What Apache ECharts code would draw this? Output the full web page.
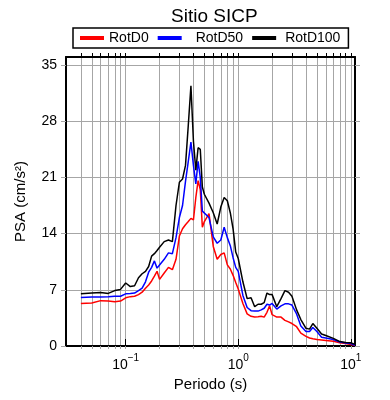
<!DOCTYPE html>
<html>
<head>
<meta charset="utf-8">
<script src="https://cdn.jsdelivr.net/npm/echarts@6/dist/echarts.min.js"></script>
<style>html,body{margin:0;padding:0;background:#fff;}#c{width:390px;height:400px;}</style>
</head>
<body>
<div id="c"></div>
<script>
const periods = [0.04,0.05,0.06,0.07,0.08,0.09,0.1,0.11,0.12,0.13,0.14,0.15,0.16,0.17,0.18,0.19,0.2,0.22,0.24,0.26,0.28,0.3,0.32,0.34,0.36,0.38,0.4,0.42,0.44,0.46,0.48,0.5,0.55,0.6,0.65,0.7,0.75,0.8,0.85,0.9,0.95,1.0,1.1,1.2,1.3,1.4,1.5,1.6,1.7,1.8,1.9,2.0,2.2,2.4,2.6,2.8,3.0,3.3,3.6,4.0,4.3,4.6,5.0,5.5,6.0,7.0,8.0,9.0,10.0,10.9];
const rotD0 = [5.3,5.35,5.65,5.6,5.5,5.6,6.0,6.15,6.2,6.4,6.7,7.2,7.6,8.1,8.7,9.3,8.3,9.1,9.8,9.5,10.8,13.7,14.6,15.1,15.5,15.9,15.7,18.5,20.6,19.5,14.8,15.5,16.5,12.4,10.8,11.4,11.6,10.1,9.6,8.8,7.9,7.1,5.3,4.0,3.7,3.6,3.65,3.7,3.6,4.2,5.0,3.9,3.6,3.6,3.2,3.0,2.8,2.4,1.6,1.2,1.0,0.9,0.8,0.75,0.7,0.6,0.4,0.3,0.2,0.05];
const rotD50 = [6.05,6.1,6.1,6.15,6.2,6.2,6.5,6.55,6.6,6.9,7.2,8.0,9.2,9.8,10.6,9.7,10.1,10.8,11.6,11.5,13.5,16.0,17.5,20.5,23.0,25.4,22.5,20.2,23.0,21.0,16.8,16.9,16.0,13.6,12.8,13.2,14.8,13.5,12.5,11.0,9.8,9.3,6.3,4.8,4.4,4.35,4.35,4.5,4.7,5.2,5.1,5.3,4.6,5.0,5.25,5.25,5.1,4.0,2.5,1.8,1.8,2.3,1.8,1.1,1.0,0.8,0.5,0.37,0.3,0.1];
const rotD100 = [6.5,6.6,6.65,6.55,6.9,7.05,7.85,7.4,7.5,8.5,9.0,9.3,9.9,11.2,11.5,11.9,12.3,13.0,13.2,13.0,17.5,20.4,20.8,22.5,27.5,32.4,25.5,21.9,24.7,24.5,19.8,18.9,17.8,16.6,15.2,17.3,18.5,18.1,16.6,14.6,11.7,10.9,8.0,5.9,6.0,4.9,5.2,5.2,5.4,6.6,6.4,6.4,4.9,5.9,6.9,6.7,6.2,4.5,3.3,2.2,2.1,2.8,2.2,1.5,1.3,0.95,0.55,0.45,0.4,0.2];
const seriesNames = ['RotD0','RotD50','RotD100'];
const xMajorTicks = [0.1,1,10];
const xAllTicks = [0.04,0.05,0.06,0.07,0.08,0.09,0.1,0.2,0.3,0.4,0.5,0.6,0.7,0.8,0.9,1,2,3,4,5,6,7,8,9,10];
const yTicks = [0,7,14,21,28,35];
const xMin = 0.0295, xMax = 10.9, yMin = 0, yMax = 36;

const FONT = 'Liberation Sans, Arial, Helvetica, sans-serif';
const GRIDC = '#a6a6a6';
const chart = echarts.init(document.getElementById('c'), null, {renderer: 'canvas'});
const pairs = arr => periods.map((p, i) => [p, arr[i]]);
const supLabel = v => {
  const e = Math.round(Math.log10(v));
  const s = e < 0 ? '\u2212' + (-e) : String(e);
  return '{b|10}{s|' + s + '}';
};
const legendRich = {
  l0: {fontFamily: FONT, fontSize: 14, color: '#000'},
  l1: {fontFamily: FONT, fontSize: 14, color: '#000', padding: [0, 0, 0, 9]},
  l2: {fontFamily: FONT, fontSize: 14, color: '#000', padding: [0, 0, 0, 4]}
};
const commonX = {type: 'log', logBase: 10, min: xMin, max: xMax, gridIndex: 0};
const option = {
  backgroundColor: '#fff',
  animation: false,
  title: {text: 'Sitio SICP', left: 166, top: 2, textStyle: {fontFamily: FONT, fontSize: 19, fontWeight: 'normal', color: '#000'}},
  legend: {
    data: seriesNames, left: 73, top: 28, orient: 'horizontal',
    borderColor: '#000', borderWidth: 1.5, borderRadius: 0,
    padding: [3, 8, 3, 7], itemGap: 9, itemWidth: 24, itemHeight: 4, icon: 'rect',
    formatter: name => '{l' + seriesNames.indexOf(name) + '|' + name + '}',
    textStyle: {fontFamily: FONT, fontSize: 14, color: '#000', rich: legendRich}
  },
  grid: {left: 66, right: 35, top: 57, bottom: 54, show: false},
  xAxis: [
    Object.assign({}, commonX, {
      position: 'bottom',
      name: 'Periodo (s)', nameLocation: 'middle', nameGap: 28,
      nameTextStyle: {fontFamily: FONT, fontSize: 15, color: '#000'},
      axisLine: {show: true, onZero: false, lineStyle: {color: '#000', width: 2}},
      axisTick: {show: true, inside: false, length: 3, customValues: xAllTicks, lineStyle: {color: GRIDC, width: 1}},
      splitLine: {show: true, lineStyle: {color: GRIDC, width: 1}},
      axisLabel: {show: true, customValues: xMajorTicks, margin: 7, formatter: supLabel,
        rich: {b: {fontFamily: FONT, fontSize: 14, color: '#000', verticalAlign: 'bottom', padding: [5, 0, 0, 0]},
               s: {fontFamily: FONT, fontSize: 10, color: '#000', verticalAlign: 'top'}}}
    }),
    Object.assign({}, commonX, {
      position: 'top',
      axisLine: {show: true, onZero: false, lineStyle: {color: '#000', width: 2}},
      axisTick: {show: true, inside: false, length: 4, customValues: xAllTicks, lineStyle: {color: '#000', width: 1}},
      splitLine: {show: false}, axisLabel: {show: false}
    }),
    Object.assign({}, commonX, {
      position: 'top',
      axisLine: {show: false},
      axisTick: {show: true, inside: false, length: 7, customValues: xMajorTicks, lineStyle: {color: '#000', width: 1}},
      splitLine: {show: false}, axisLabel: {show: false}
    })
  ],
  yAxis: [
    {
      type: 'value', min: yMin, max: yMax, position: 'left',
      name: 'PSA (cm/s\u00B2)', nameLocation: 'middle', nameGap: 38,
      nameTextStyle: {fontFamily: FONT, fontSize: 15, color: '#000'},
      axisLine: {show: true, onZero: false, lineStyle: {color: '#000', width: 2}},
      axisTick: {show: true, inside: false, length: 5, customValues: yTicks, lineStyle: {color: GRIDC, width: 1}},
      splitLine: {show: false},
      axisLabel: {show: true, customValues: yTicks, margin: 9, fontFamily: FONT, fontSize: 14, color: '#000'}
    },
    {
      type: 'value', min: yMin, max: yMax, position: 'right',
      axisLine: {show: true, onZero: false, lineStyle: {color: '#000', width: 2}},
      axisTick: {show: true, inside: false, length: 5, customValues: yTicks, lineStyle: {color: GRIDC, width: 1}},
      splitLine: {show: true, lineStyle: {color: GRIDC, width: 1}},
      axisLabel: {show: false}
    }
  ],
  series: [
    {name: seriesNames[0], type: 'line', data: pairs(rotD0), xAxisIndex: 0, yAxisIndex: 0, showSymbol: false, symbol: 'none', color: '#ff0000', lineStyle: {width: 1.5, color: '#ff0000'}, z: 3},
    {name: seriesNames[1], type: 'line', data: pairs(rotD50), xAxisIndex: 0, yAxisIndex: 0, showSymbol: false, symbol: 'none', color: '#0000ff', lineStyle: {width: 1.5, color: '#0000ff'}, z: 4},
    {name: seriesNames[2], type: 'line', data: pairs(rotD100), xAxisIndex: 0, yAxisIndex: 0, showSymbol: false, symbol: 'none', color: '#000000', lineStyle: {width: 1.5, color: '#000000'}, z: 5}
  ]
};
chart.setOption(option);
</script>
</body>
</html>
